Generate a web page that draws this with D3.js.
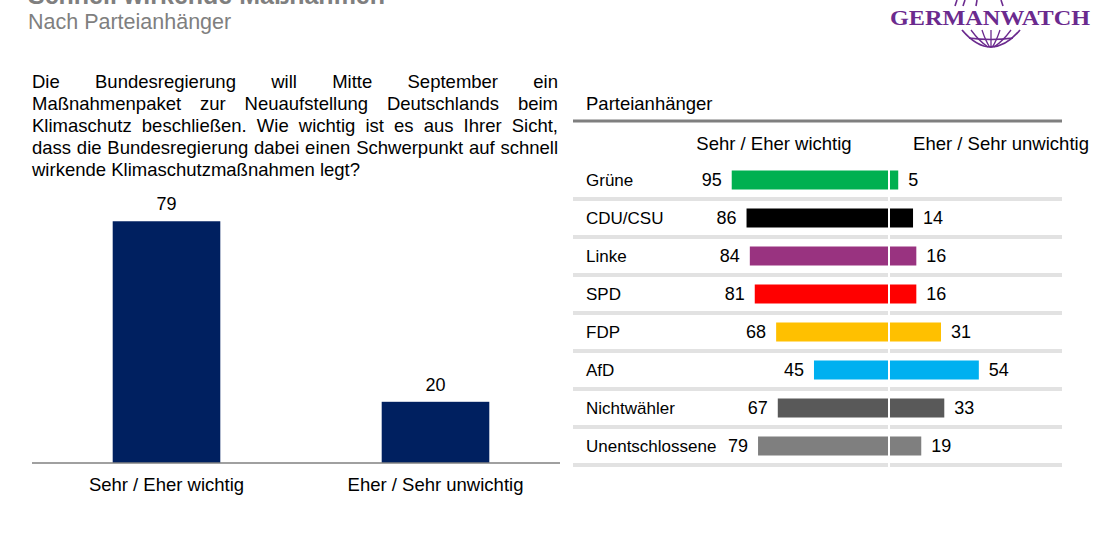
<!DOCTYPE html>
<html><head><meta charset="utf-8">
<script src="https://cdn.jsdelivr.net/npm/d3@7"></script>
<style>
html,body{margin:0;padding:0;background:#fff;}
svg{display:block;font-family:"Liberation Sans",Arial,sans-serif;}
</style></head>
<body>
<svg id="chart" width="1120" height="560"></svg>
<script>
// ---- Data ----
const titleText = "Schnell wirkende Maßnahmen";
const subtitleText = "Nach Parteianhänger";
const questionLines = [
  "Die Bundesregierung will Mitte September ein",
  "Maßnahmenpaket zur Neuaufstellung Deutschlands beim",
  "Klimaschutz beschließen. Wie wichtig ist es aus Ihrer Sicht,",
  "dass die Bundesregierung dabei einen Schwerpunkt auf schnell",
  "wirkende Klimaschutzmaßnahmen legt?"
];
const mainCategories = ["Sehr / Eher wichtig", "Eher / Sehr unwichtig"];
const mainValues = [79, 20];
const panelTitle = "Parteianhänger";
const sideHeaders = ["Sehr / Eher wichtig", "Eher / Sehr unwichtig"];
const parties = ["Grüne", "CDU/CSU", "Linke", "SPD", "FDP", "AfD", "Nichtwähler", "Unentschlossene"];
const importantValues = [95, 86, 84, 81, 68, 45, 67, 79];
const unimportantValues = [5, 14, 16, 16, 31, 54, 33, 19];
const partyColors = ["#00b050", "#000000", "#993380", "#ff0000", "#ffc000", "#00b0f0", "#595959", "#7f7f7f"];
const mainColor = "#002060";

const svg = d3.select("#chart");

// ---- Header ----
svg.append("text").attr("x", 28).attr("y", 4)
  .attr("font-size", 25).attr("font-weight", "bold").attr("fill", "#7f7f7f")
  .text(titleText);
svg.append("text").attr("x", 28).attr("y", 29)
  .attr("font-size", 21.5).attr("fill", "#7f7f7f")
  .text(subtitleText);

// ---- Logo ----
const logo = svg.append("g");
const lp = "#6b2a8e";
logo.append("text").attr("x", 890).attr("y", 25)
  .attr("font-family", "'Liberation Serif','DejaVu Serif',serif")
  .attr("font-weight", "bold").attr("font-size", 21)
  .attr("textLength", 200).attr("lengthAdjust", "spacingAndGlyphs")
  .attr("fill", lp).text("GERMANWATCH");
[[957,0,955,6],[965,0,963,6],[977,0,976,6],[1001,0,1003,6]].forEach(l =>
  logo.append("line").attr("x1", l[0]).attr("y1", l[1]).attr("x2", l[2]).attr("y2", l[3])
    .attr("stroke", lp).attr("stroke-width", 1.6));
const gcx = 991, gTop = 30, gBot = 47, gHalf = 29;
logo.append("path")
  .attr("d", `M${gcx - gHalf},${gTop} Q${gcx},${gBot + 17} ${gcx + gHalf},${gTop}`)
  .attr("fill", "none").attr("stroke", lp).attr("stroke-width", 1.8);
[-20, -9, 0, 9, 20].forEach(dx => {
  logo.append("path")
    .attr("d", `M${gcx + dx},${gTop} Q${gcx + dx * 0.6},${gBot - 6} ${gcx + dx * 0.15},${gBot}`)
    .attr("fill", "none").attr("stroke", lp).attr("stroke-width", 1.3);
});
logo.append("path").attr("d", `M${gcx - 22},${gTop + 8} Q${gcx},${gTop + 11} ${gcx + 22},${gTop + 8}`)
  .attr("fill", "none").attr("stroke", lp).attr("stroke-width", 1.3);

// ---- Question text (justified) ----
const qx0 = 32, qx1 = 558, qy0 = 88, qdy = 22, qfs = 18.5;
questionLines.forEach((line, i) => {
  const y = qy0 + i * qdy;
  const words = line.split(" ");
  const g = svg.append("g");
  const nodes = words.map(w => g.append("text").attr("y", y).attr("font-size", qfs).attr("fill", "#000").text(w));
  const widths = nodes.map(n => n.node().getComputedTextLength());
  const total = d3.sum(widths);
  const isLast = i === questionLines.length - 1;
  const spaceW = isLast ? qfs * 0.278 : (qx1 - qx0 - total) / (words.length - 1);
  let x = qx0;
  nodes.forEach((n, k) => { n.attr("x", x); x += widths[k] + spaceW; });
});

// ---- Left bar chart ----
const xMain = d3.scaleBand().domain(mainCategories).range([32, 570]).paddingInner(0.6).paddingOuter(0.3);
const yMain = d3.scaleLinear().domain([0, 100]).range([463, 157]);
svg.append("g").selectAll("rect").data(mainValues).join("rect")
  .attr("x", (d, i) => xMain(mainCategories[i]))
  .attr("y", d => yMain(d))
  .attr("width", xMain.bandwidth())
  .attr("height", d => yMain(0) - yMain(d))
  .attr("fill", mainColor);
svg.append("g").selectAll("text").data(mainValues).join("text")
  .attr("x", (d, i) => xMain(mainCategories[i]) + xMain.bandwidth() / 2)
  .attr("y", d => yMain(d) - 11)
  .attr("text-anchor", "middle").attr("font-size", 18).attr("fill", "#000")
  .text(d => d);
const xAxisG = svg.append("g").attr("transform", `translate(0,${yMain(0)})`)
  .call(d3.axisBottom(xMain).tickSize(0).tickPadding(15));
xAxisG.select(".domain").attr("stroke", "#808080").attr("stroke-width", 1.5).attr("d", "M32,0H560");
xAxisG.selectAll("text").attr("font-size", 18.5).attr("fill", "#000")
  .attr("font-family", "'Liberation Sans',Arial,sans-serif");

// ---- Right panel ----
svg.append("text").attr("x", 586).attr("y", 110).attr("font-size", 18.5).attr("fill", "#000").text(panelTitle);
svg.append("line").attr("x1", 573).attr("x2", 1062).attr("y1", 121).attr("y2", 121)
  .attr("stroke", "#7f7f7f").attr("stroke-width", 3);
svg.append("text").attr("x", 774).attr("y", 150).attr("text-anchor", "middle")
  .attr("font-size", 18.5).attr("fill", "#000").text(sideHeaders[0]);
svg.append("text").attr("x", 1001).attr("y", 150).attr("text-anchor", "middle")
  .attr("font-size", 18.5).attr("fill", "#000").text(sideHeaders[1]);

const cx = 889;
const yP = d3.scaleBand().domain(parties).range([161, 465]).paddingInner(0).paddingOuter(0);
const xP = d3.scaleLinear().domain([0, 100]).range([0, 164.5]);
const barH = 19;

// separators
const sepG = svg.append("g");
parties.forEach(p => {
  const yb = yP(p) + yP.bandwidth();
  sepG.append("rect").attr("x", 573).attr("y", yb - 2).attr("width", cx - 1 - 573).attr("height", 4).attr("fill", "#e2e2e2");
  sepG.append("rect").attr("x", cx + 1).attr("y", yb - 2).attr("width", 1062 - cx - 1).attr("height", 4).attr("fill", "#e2e2e2");
});

const rows = svg.append("g").selectAll("g").data(parties).join("g")
  .attr("transform", p => `translate(0,${yP(p) + yP.bandwidth() / 2})`);
rows.append("text").attr("x", 586).attr("y", 0).attr("dy", "0.35em")
  .attr("font-size", 17).attr("fill", "#000").text(p => p);
rows.append("rect")
  .attr("x", (p, i) => cx - 1 - xP(importantValues[i]))
  .attr("y", -barH / 2).attr("height", barH)
  .attr("width", (p, i) => xP(importantValues[i]))
  .attr("fill", (p, i) => partyColors[i]);
rows.append("rect")
  .attr("x", cx + 1)
  .attr("y", -barH / 2).attr("height", barH)
  .attr("width", (p, i) => xP(unimportantValues[i]))
  .attr("fill", (p, i) => partyColors[i]);
rows.append("text")
  .attr("x", (p, i) => cx - 1 - xP(importantValues[i]) - 10)
  .attr("dy", "0.35em").attr("text-anchor", "end")
  .attr("font-size", 18).attr("fill", "#000")
  .text((p, i) => importantValues[i]);
rows.append("text")
  .attr("x", (p, i) => cx + 1 + xP(unimportantValues[i]) + 10)
  .attr("dy", "0.35em").attr("text-anchor", "start")
  .attr("font-size", 18).attr("fill", "#000")
  .text((p, i) => unimportantValues[i]);
</script>
</body></html>
